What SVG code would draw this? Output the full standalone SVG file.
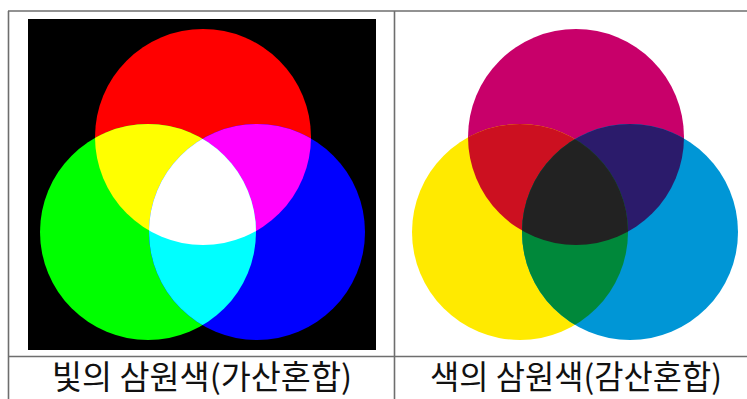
<svg xmlns="http://www.w3.org/2000/svg" width="747" height="399" viewBox="0 0 747 399">
<style>
.grid{stroke:#6e6e6e;stroke-width:1.6;fill:none}
.cap{font-family:"Noto Sans CJK KR","Noto Sans",sans-serif;font-size:30px;fill:#111;text-anchor:middle}
</style>
<defs>
<circle id="cR" cx="203" cy="137" r="108"/>
<circle id="cG" cx="148" cy="232" r="108"/>
<circle id="cB" cx="257" cy="232" r="108"/>
<circle id="cM" cx="576" cy="137" r="108"/>
<circle id="cY" cx="520" cy="232" r="108"/>
<circle id="cC" cx="630" cy="232" r="108"/>
<clipPath id="kR"><use href="#cR"/></clipPath>
<clipPath id="kG"><use href="#cG"/></clipPath>
<clipPath id="kB"><use href="#cB"/></clipPath>
<clipPath id="kM"><use href="#cM"/></clipPath>
<clipPath id="kY"><use href="#cY"/></clipPath>
<clipPath id="kC"><use href="#cC"/></clipPath>
</defs>
<rect width="747" height="399" fill="#fff"/>
<g id="additive">
<rect x="28" y="19" width="348" height="331" fill="#000"/>
<use href="#cR" fill="#ff0000"/>
<use href="#cG" fill="#00ff00"/>
<use href="#cB" fill="#0000ff"/>
<use href="#cG" fill="#ffff00" clip-path="url(#kR)"/>
<use href="#cB" fill="#ff00ff" clip-path="url(#kR)"/>
<use href="#cB" fill="#00ffff" clip-path="url(#kG)"/>
<g clip-path="url(#kR)"><use href="#cB" fill="#ffffff" clip-path="url(#kG)"/></g>
</g>
<g id="subtractive">
<use href="#cM" fill="#c8006a"/>
<use href="#cY" fill="#ffea00"/>
<use href="#cC" fill="#0096d6"/>
<use href="#cY" fill="#cc1020" clip-path="url(#kM)"/>
<use href="#cC" fill="#2b1b6b" clip-path="url(#kM)"/>
<use href="#cC" fill="#00883a" clip-path="url(#kY)"/>
<g clip-path="url(#kM)"><use href="#cC" fill="#222222" clip-path="url(#kY)"/></g>
</g>
<g id="table">
<line class="grid" x1="8" y1="11" x2="747" y2="11"/>
<line class="grid" x1="8.5" y1="11" x2="8.5" y2="399"/>
<line class="grid" x1="394.5" y1="11" x2="394.5" y2="399"/>
<line class="grid" x1="8" y1="356.5" x2="747" y2="356.5"/>
</g>
<g id="captions">
<text class="cap" transform="translate(202,389) scale(1,1.08)" textLength="300" lengthAdjust="spacingAndGlyphs">빛의  삼원색(가산혼합)</text>
<text class="cap" transform="translate(576,389) scale(1,1.08)" textLength="292" lengthAdjust="spacingAndGlyphs">색의  삼원색(감산혼합)</text>
</g>
</svg>
